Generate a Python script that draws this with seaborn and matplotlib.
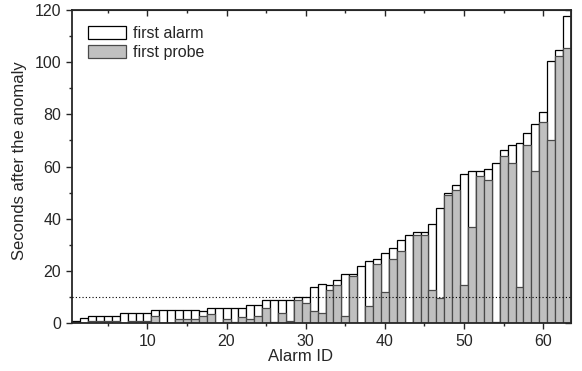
import pandas as pd
import seaborn as sns
import matplotlib.pyplot as plt
from matplotlib.patches import Patch
from matplotlib.ticker import MultipleLocator

alarm_ids = list(range(1, 64))
first_alarm = [0.8, 1.8, 2.8, 2.8, 2.8, 2.8, 3.7, 3.7, 3.7, 3.7,
               4.9, 4.9, 4.9, 4.9, 4.9, 4.9, 4.8, 5.9, 5.9, 5.9,
               5.9, 5.9, 6.9, 6.9, 8.8, 8.8, 8.8, 8.8, 9.9, 9.9,
               13.8, 14.9, 14.8, 16.7, 18.7, 18.7, 21.8, 23.7, 24.6, 26.8,
               28.8, 31.8, 33.8, 34.8, 34.8, 38.0, 44.0, 50.0, 53.0, 57.2,
               58.3, 58.3, 59.2, 61.2, 66.3, 68.3, 69.2, 73.0, 76.3, 81.0,
               100.5, 104.5, 117.7]
first_probe = [0.5, 0.0, 0.8, 0.8, 0.8, 0.8, 0.0, 0.8, 0.8, 0.8,
               2.6, 0.0, 0.0, 1.5, 1.5, 1.5, 2.7, 3.6, 0.0, 1.7,
               0.6, 2.4, 1.7, 2.7, 5.9, 0.6, 3.7, 0.8, 8.8, 7.8,
               4.6, 3.7, 12.7, 14.6, 2.6, 17.9, 0.0, 6.7, 22.7, 11.8,
               24.6, 27.8, 0.0, 33.8, 33.8, 12.6, 9.6, 49.0, 51.0, 14.5,
               36.9, 56.3, 55.0, 0.6, 64.0, 61.2, 13.7, 68.2, 58.3, 77.2,
               70.0, 102.5, 105.4]

sns.set_style("ticks")
plt.rcParams["font.family"] = ["Liberation Sans", "DejaVu Sans"]
plt.rcParams["font.size"] = 11

df = pd.DataFrame({"Alarm ID": alarm_ids,
                   "first alarm": first_alarm,
                   "first probe": first_probe})

fig = plt.figure(figsize=(5.82, 3.71), dpi=100)
ax = fig.add_axes([0.124, 0.129, 0.857, 0.844])

sns.barplot(data=df, x="Alarm ID", y="first alarm", native_scale=True, width=1,
            color="white", edgecolor="black", linewidth=0.9, saturation=1, ax=ax)
sns.barplot(data=df, x="Alarm ID", y="first probe", native_scale=True, width=1,
            color="#c0c0c0", edgecolor="#4a4a4a", linewidth=0.9, saturation=1, ax=ax)

ax.axhline(10, color="black", ls=(0, (1, 2)), lw=0.8, zorder=5)

ax.set_xlim(0.5, 63.5)
ax.set_ylim(0, 120)
ax.xaxis.set_major_locator(MultipleLocator(10))
ax.xaxis.set_minor_locator(MultipleLocator(5))
ax.yaxis.set_major_locator(MultipleLocator(20))
ax.yaxis.set_minor_locator(MultipleLocator(10))
ax.tick_params(which="major", direction="out", length=4.5, width=1, labelsize=11.5)
ax.tick_params(which="minor", direction="out", length=2.5, width=1)

# mirrored ticks pointing inward on top and right
top = ax.secondary_xaxis("top")
top.xaxis.set_major_locator(MultipleLocator(10))
top.xaxis.set_minor_locator(MultipleLocator(5))
top.tick_params(which="major", direction="in", length=4.5, width=1, labeltop=False)
top.tick_params(which="minor", direction="in", length=2.5, width=1)
right = ax.secondary_yaxis("right")
right.yaxis.set_major_locator(MultipleLocator(20))
right.yaxis.set_minor_locator(MultipleLocator(10))
right.tick_params(which="major", direction="in", length=4.5, width=1, labelright=False)
right.tick_params(which="minor", direction="in", length=2.5, width=1)

for s in ax.spines.values():
    s.set_linewidth(1.3)
    s.set_visible(True)

ax.set_xlabel("Alarm ID", fontsize=12)
ax.xaxis.set_label_coords(0.457, -0.084)
ax.set_ylabel("Seconds after the anomaly", fontsize=12)
ax.yaxis.set_label_coords(-0.09, 0.52)

handles = [Patch(facecolor="white", edgecolor="black", linewidth=0.9),
           Patch(facecolor="#c0c0c0", edgecolor="#4a4a4a", linewidth=0.9)]
ax.legend(handles, ["first alarm", "first probe"], loc="upper left", frameon=False,
          handlelength=2.4, handleheight=0.9, labelspacing=0.25, handletextpad=0.4,
          borderaxespad=0.6, fontsize=11.5)

plt.savefig("out.png", dpi=100)
